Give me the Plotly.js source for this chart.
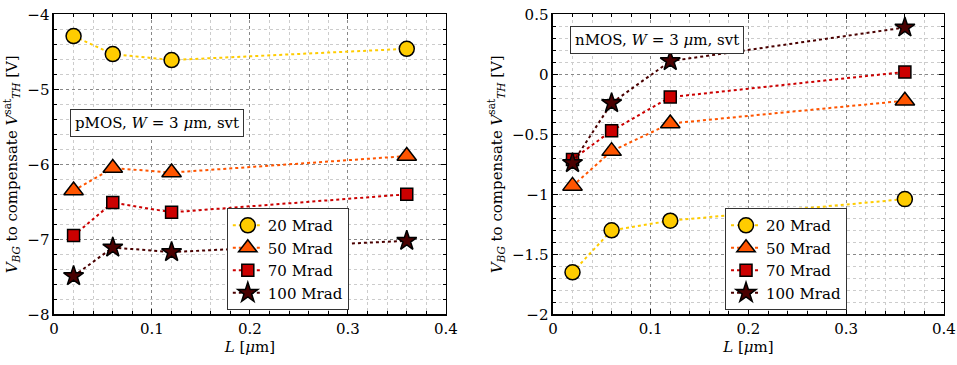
<!DOCTYPE html>
<html>
<head>
<meta charset="utf-8">
<script src="https://cdn.plot.ly/plotly-3.0.1.min.js"></script>
<style>html,body{margin:0;padding:0;background:#fff;}#chart{width:957px;height:365px;}</style>
</head>
<body>
<div id="chart"></div>
<script>
const L = [0.02, 0.06, 0.12, 0.36];
const seriesNames = ["20 Mrad", "50 Mrad", "70 Mrad", "100 Mrad"];
const pmos20 = [-4.29, -4.53, -4.61, -4.46];
const pmos50 = [-6.35, -6.05, -6.11, -5.89];
const pmos70 = [-6.95, -6.51, -6.64, -6.40];
const pmos100 = [-7.49, -7.11, -7.17, -7.02];
const nmos20 = [-1.65, -1.30, -1.22, -1.04];
const nmos50 = [-0.93, -0.64, -0.41, -0.22];
const nmos70 = [-0.71, -0.47, -0.19, 0.02];
const nmos100 = [-0.74, -0.24, 0.11, 0.39];

const colors = ["#FFCC00", "#FF5500", "#CC0000", "#4A0000"];
const symbols = ["circle", "triangle-up", "square", "star"];
const sizes = [15, 17, 12, 15];
const FONT = "DejaVu Serif";
const FS = 15;

function mk(y, i, xa, ya, leg) {
  return {
    x: L, y: y, xaxis: xa, yaxis: ya, name: seriesNames[i], legend: leg,
    mode: "lines+markers", type: "scatter",
    line: {color: colors[i], dash: "dot", width: 2},
    marker: {symbol: symbols[i], size: sizes[i], color: colors[i], line: {color: "#000", width: 1.5}}
  };
}
const pm = [pmos20, pmos50, pmos70, pmos100];
const nm = [nmos20, nmos50, nmos70, nmos100];
const data = [];
pm.forEach((y, i) => data.push(mk(y, i, "x", "y", "legend")));
nm.forEach((y, i) => data.push(mk(y, i, "x2", "y2", "legend2")));

const ytitle = "<i>V</i><sub><i>BG</i></sub> to compensate <i>V</i><sup>sat</sup><sub><i>TH</i></sub> [V]";
const xtitle = "<i>L</i> [<i>μ</i>m]";

function xax(dom, anchor) {
  return {
    domain: dom, anchor: anchor, range: [0, 0.4], dtick: 0.1, tick0: 0,
    showline: true, linecolor: "#000", linewidth: 1.5, mirror: "allticks",
    ticks: "inside", ticklen: 5, tickcolor: "#000",
    showgrid: true, gridcolor: "#888", griddash: "dot", gridwidth: 1,
    zeroline: false,
    tickformat: "~g",
    minor: {dtick: 0.02, showgrid: true, gridcolor: "#ccc", griddash: "dot", ticks: "inside", ticklen: 3, tickcolor: "#000"},
    title: {text: xtitle, font: {size: FS, family: FONT, color: "#000"}, standoff: 4},
    tickfont: {size: FS, family: FONT, color: "#000"}
  };
}
function yax(dom, anchor, range, dtick, mdt) {
  return {
    domain: dom, anchor: anchor, range: range, dtick: dtick,
    showline: true, linecolor: "#000", linewidth: 1.5, mirror: "allticks",
    ticks: "inside", ticklen: 5, tickcolor: "#000",
    showgrid: true, gridcolor: "#888", griddash: "dot", gridwidth: 1,
    zeroline: false,
    tickformat: "~g",
    minor: {dtick: mdt, showgrid: true, gridcolor: "#ccc", griddash: "dot", ticks: "inside", ticklen: 3, tickcolor: "#000"},
    title: {text: ytitle, font: {size: FS, family: FONT, color: "#000"}, standoff: 6},
    tickfont: {size: FS, family: FONT, color: "#000"}
  };
}
const ydom = [0.1389, 0.9608];
const layout = {
  width: 957, height: 365,
  margin: {l: 0, r: 0, t: 0, b: 0},
  paper_bgcolor: "#fff", plot_bgcolor: "#fff",
  font: {family: FONT, size: FS, color: "#000"},
  xaxis: xax([0.0564, 0.4660], "y"),
  yaxis: yax(ydom, "x", [-8, -4], 1, 0.2),
  xaxis2: xax([0.5778, 0.9864], "y2"),
  yaxis2: yax(ydom, "x2", [-2, 0.5], 0.5, 0.1),
  legend: {x: 0.237, y: 0.430, xanchor: "left", yanchor: "top", bgcolor: "#fff", bordercolor: "#333", borderwidth: 1, font: {size: FS, family: FONT}, tracegroupgap: 0, itemwidth: 30},
  legend2: {x: 0.7576, y: 0.430, xanchor: "left", yanchor: "top", bgcolor: "#fff", bordercolor: "#333", borderwidth: 1, font: {size: FS, family: FONT}, tracegroupgap: 0, itemwidth: 30},
  showlegend: true,
  annotations: [
    {xref: "paper", yref: "paper", x: 0.0732, y: 1 - 109/365, xanchor: "left", yanchor: "top", showarrow: false,
     text: "pMOS, <i>W</i> = 3 <i>μ</i>m, svt", font: {size: FS, family: FONT, color: "#000"},
     bgcolor: "#fff", bordercolor: "#333", borderwidth: 1, borderpad: 4},
    {xref: "paper", yref: "paper", x: 570/957, y: 1 - 26/365, xanchor: "left", yanchor: "top", showarrow: false,
     text: "nMOS, <i>W</i> = 3 <i>μ</i>m, svt", font: {size: FS, family: FONT, color: "#000"},
     bgcolor: "#fff", bordercolor: "#333", borderwidth: 1, borderpad: 4}
  ]
};
Plotly.newPlot("chart", data, layout, {staticPlot: true, displayModeBar: false});
</script>
</body>
</html>
